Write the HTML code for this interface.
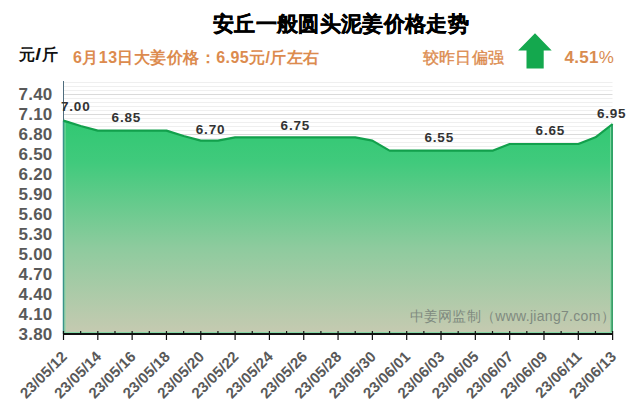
<!DOCTYPE html>
<html><head><meta charset="utf-8"><style>
html,body{margin:0;padding:0;background:#fff;}
body{width:640px;height:410px;overflow:hidden;position:relative;font-family:"Liberation Sans",sans-serif;}
svg{position:absolute;left:0;top:0;}
.t{position:absolute;white-space:nowrap;line-height:1;}
</style></head><body>
<svg width="640" height="410" viewBox="0 0 640 410" font-family="Liberation Sans, sans-serif">
<defs>
<linearGradient id="g" x1="0" y1="119" x2="0" y2="334" gradientUnits="userSpaceOnUse">
<stop offset="0" stop-color="#30c872"/>
<stop offset="0.2" stop-color="#40ca7c"/>
<stop offset="0.6" stop-color="#8ecb9e"/>
<stop offset="1" stop-color="#c6cab1"/>
</linearGradient>
</defs>
<g stroke-width="1"><line x1="63" y1="82.5" x2="612.5" y2="82.5" stroke="#efefef"/><line x1="63" y1="86.5" x2="612.5" y2="86.5" stroke="#efefef"/><line x1="63" y1="90.5" x2="612.5" y2="90.5" stroke="#efefef"/><line x1="63" y1="94.5" x2="612.5" y2="94.5" stroke="#dadada"/><line x1="63" y1="98.5" x2="612.5" y2="98.5" stroke="#efefef"/><line x1="63" y1="102.5" x2="612.5" y2="102.5" stroke="#efefef"/><line x1="63" y1="106.5" x2="612.5" y2="106.5" stroke="#efefef"/><line x1="63" y1="110.5" x2="612.5" y2="110.5" stroke="#efefef"/><line x1="63" y1="114.5" x2="612.5" y2="114.5" stroke="#dadada"/><line x1="63" y1="118.5" x2="612.5" y2="118.5" stroke="#efefef"/><line x1="63" y1="122.5" x2="612.5" y2="122.5" stroke="#efefef"/><line x1="63" y1="126.5" x2="612.5" y2="126.5" stroke="#efefef"/><line x1="63" y1="130.5" x2="612.5" y2="130.5" stroke="#efefef"/><line x1="63" y1="134.5" x2="612.5" y2="134.5" stroke="#dadada"/><line x1="63" y1="138.5" x2="612.5" y2="138.5" stroke="#efefef"/><line x1="63" y1="142.5" x2="612.5" y2="142.5" stroke="#efefef"/><line x1="63" y1="146.5" x2="612.5" y2="146.5" stroke="#efefef"/><line x1="63" y1="150.5" x2="612.5" y2="150.5" stroke="#efefef"/><line x1="63" y1="154.5" x2="612.5" y2="154.5" stroke="#dadada"/><line x1="63" y1="158.5" x2="612.5" y2="158.5" stroke="#efefef"/><line x1="63" y1="162.5" x2="612.5" y2="162.5" stroke="#efefef"/><line x1="63" y1="166.5" x2="612.5" y2="166.5" stroke="#efefef"/><line x1="63" y1="170.5" x2="612.5" y2="170.5" stroke="#efefef"/><line x1="63" y1="174.5" x2="612.5" y2="174.5" stroke="#dadada"/><line x1="63" y1="178.5" x2="612.5" y2="178.5" stroke="#efefef"/><line x1="63" y1="182.5" x2="612.5" y2="182.5" stroke="#efefef"/><line x1="63" y1="186.5" x2="612.5" y2="186.5" stroke="#efefef"/><line x1="63" y1="190.5" x2="612.5" y2="190.5" stroke="#efefef"/><line x1="63" y1="194.5" x2="612.5" y2="194.5" stroke="#dadada"/><line x1="63" y1="198.5" x2="612.5" y2="198.5" stroke="#efefef"/><line x1="63" y1="202.5" x2="612.5" y2="202.5" stroke="#efefef"/><line x1="63" y1="206.5" x2="612.5" y2="206.5" stroke="#efefef"/><line x1="63" y1="210.5" x2="612.5" y2="210.5" stroke="#efefef"/><line x1="63" y1="214.5" x2="612.5" y2="214.5" stroke="#dadada"/><line x1="63" y1="218.5" x2="612.5" y2="218.5" stroke="#efefef"/><line x1="63" y1="222.5" x2="612.5" y2="222.5" stroke="#efefef"/><line x1="63" y1="226.5" x2="612.5" y2="226.5" stroke="#efefef"/><line x1="63" y1="230.5" x2="612.5" y2="230.5" stroke="#efefef"/><line x1="63" y1="234.5" x2="612.5" y2="234.5" stroke="#dadada"/><line x1="63" y1="238.5" x2="612.5" y2="238.5" stroke="#efefef"/><line x1="63" y1="242.5" x2="612.5" y2="242.5" stroke="#efefef"/><line x1="63" y1="246.5" x2="612.5" y2="246.5" stroke="#efefef"/><line x1="63" y1="250.5" x2="612.5" y2="250.5" stroke="#efefef"/><line x1="63" y1="254.5" x2="612.5" y2="254.5" stroke="#dadada"/><line x1="63" y1="258.5" x2="612.5" y2="258.5" stroke="#efefef"/><line x1="63" y1="262.5" x2="612.5" y2="262.5" stroke="#efefef"/><line x1="63" y1="266.5" x2="612.5" y2="266.5" stroke="#efefef"/><line x1="63" y1="270.5" x2="612.5" y2="270.5" stroke="#efefef"/><line x1="63" y1="274.5" x2="612.5" y2="274.5" stroke="#dadada"/><line x1="63" y1="278.5" x2="612.5" y2="278.5" stroke="#efefef"/><line x1="63" y1="282.5" x2="612.5" y2="282.5" stroke="#efefef"/><line x1="63" y1="286.5" x2="612.5" y2="286.5" stroke="#efefef"/><line x1="63" y1="290.5" x2="612.5" y2="290.5" stroke="#efefef"/><line x1="63" y1="294.5" x2="612.5" y2="294.5" stroke="#dadada"/><line x1="63" y1="298.5" x2="612.5" y2="298.5" stroke="#efefef"/><line x1="63" y1="302.5" x2="612.5" y2="302.5" stroke="#efefef"/><line x1="63" y1="306.5" x2="612.5" y2="306.5" stroke="#efefef"/><line x1="63" y1="310.5" x2="612.5" y2="310.5" stroke="#efefef"/><line x1="63" y1="314.5" x2="612.5" y2="314.5" stroke="#dadada"/><line x1="63" y1="318.5" x2="612.5" y2="318.5" stroke="#efefef"/><line x1="63" y1="322.5" x2="612.5" y2="322.5" stroke="#efefef"/><line x1="63" y1="326.5" x2="612.5" y2="326.5" stroke="#efefef"/><line x1="63" y1="330.5" x2="612.5" y2="330.5" stroke="#efefef"/></g>
<line x1="63.5" y1="81" x2="63.5" y2="334" stroke="#4f6d7e" stroke-width="1"/>
<path d="M63.50,120.67 L80.66,126.00 L97.82,130.67 L114.98,130.67 L132.14,130.67 L149.30,130.67 L166.46,130.67 L183.62,136.00 L200.78,140.67 L217.94,140.67 L235.10,137.33 L252.26,137.33 L269.42,137.33 L286.58,137.33 L303.74,137.33 L320.90,137.33 L338.06,137.33 L355.22,137.33 L372.38,140.67 L389.54,150.67 L406.70,150.67 L423.86,150.67 L441.02,150.67 L458.18,150.67 L475.34,150.67 L492.50,150.67 L509.66,144.00 L526.82,144.00 L543.98,144.00 L561.14,144.00 L578.30,144.00 L595.46,137.33 L612.62,124.00 L612.62,334 L63.50,334 Z" fill="url(#g)" stroke="none"/>
<path d="M65,122.67 L65,333" stroke="#86d9a6" stroke-width="1" fill="none"/><path d="M63.5,120.67 L63.5,334" stroke="#3a948a" stroke-width="1.5" fill="none"/>
<path d="M610.62,126.00 L610.62,333" stroke="#86d9a6" stroke-width="1" fill="none"/><path d="M612.12,124.00 L612.12,334" stroke="#2a9c62" stroke-width="1.6" fill="none"/>
<line x1="63" y1="332.5" x2="612.5" y2="332.5" stroke="#86d9a6" stroke-width="1"/>
<path d="M63.50,120.67 L80.66,126.00 L97.82,130.67 L114.98,130.67 L132.14,130.67 L149.30,130.67 L166.46,130.67 L183.62,136.00 L200.78,140.67 L217.94,140.67 L235.10,137.33 L252.26,137.33 L269.42,137.33 L286.58,137.33 L303.74,137.33 L320.90,137.33 L338.06,137.33 L355.22,137.33 L372.38,140.67 L389.54,150.67 L406.70,150.67 L423.86,150.67 L441.02,150.67 L458.18,150.67 L475.34,150.67 L492.50,150.67 L509.66,144.00 L526.82,144.00 L543.98,144.00 L561.14,144.00 L578.30,144.00 L595.46,137.33 L612.62,124.00" stroke="#12a04c" stroke-width="2.2" fill="none" stroke-linejoin="round"/>
<line x1="63" y1="334" x2="613" y2="334" stroke="#111" stroke-width="2"/>
<g stroke="#111" stroke-width="1.2"><line x1="63.50" y1="331" x2="63.50" y2="340"/><line x1="80.66" y1="331" x2="80.66" y2="335"/><line x1="97.82" y1="331" x2="97.82" y2="340"/><line x1="114.98" y1="331" x2="114.98" y2="335"/><line x1="132.14" y1="331" x2="132.14" y2="340"/><line x1="149.30" y1="331" x2="149.30" y2="335"/><line x1="166.46" y1="331" x2="166.46" y2="340"/><line x1="183.62" y1="331" x2="183.62" y2="335"/><line x1="200.78" y1="331" x2="200.78" y2="340"/><line x1="217.94" y1="331" x2="217.94" y2="335"/><line x1="235.10" y1="331" x2="235.10" y2="340"/><line x1="252.26" y1="331" x2="252.26" y2="335"/><line x1="269.42" y1="331" x2="269.42" y2="340"/><line x1="286.58" y1="331" x2="286.58" y2="335"/><line x1="303.74" y1="331" x2="303.74" y2="340"/><line x1="320.90" y1="331" x2="320.90" y2="335"/><line x1="338.06" y1="331" x2="338.06" y2="340"/><line x1="355.22" y1="331" x2="355.22" y2="335"/><line x1="372.38" y1="331" x2="372.38" y2="340"/><line x1="389.54" y1="331" x2="389.54" y2="335"/><line x1="406.70" y1="331" x2="406.70" y2="340"/><line x1="423.86" y1="331" x2="423.86" y2="335"/><line x1="441.02" y1="331" x2="441.02" y2="340"/><line x1="458.18" y1="331" x2="458.18" y2="335"/><line x1="475.34" y1="331" x2="475.34" y2="340"/><line x1="492.50" y1="331" x2="492.50" y2="335"/><line x1="509.66" y1="331" x2="509.66" y2="340"/><line x1="526.82" y1="331" x2="526.82" y2="335"/><line x1="543.98" y1="331" x2="543.98" y2="340"/><line x1="561.14" y1="331" x2="561.14" y2="335"/><line x1="578.30" y1="331" x2="578.30" y2="340"/><line x1="595.46" y1="331" x2="595.46" y2="335"/><line x1="612.62" y1="331" x2="612.62" y2="340"/></g>
<g fill="#595959" font-weight="bold" font-size="17" text-anchor="end" letter-spacing="0.2"><text x="52.5" y="99.5">7.40</text><text x="52.5" y="119.5">7.10</text><text x="52.5" y="139.5">6.80</text><text x="52.5" y="159.5">6.50</text><text x="52.5" y="179.5">6.20</text><text x="52.5" y="199.5">5.90</text><text x="52.5" y="219.5">5.60</text><text x="52.5" y="239.5">5.30</text><text x="52.5" y="259.5">5.00</text><text x="52.5" y="279.5">4.70</text><text x="52.5" y="299.5">4.40</text><text x="52.5" y="319.5">4.10</text><text x="52.5" y="339.5">3.80</text></g>
<g fill="#333" font-weight="bold" font-size="13.5" letter-spacing="0.8"><text x="61.0" y="111.4">7.00</text><text x="111.6" y="122.3">6.85</text><text x="195.8" y="133.6">6.70</text><text x="280.6" y="129.7">6.75</text><text x="424.5" y="141.9">6.55</text><text x="535.6" y="135.2">6.65</text><text x="596.9" y="117.6">6.95</text></g>
<g fill="#595959" font-weight="bold" font-size="15" text-anchor="end" letter-spacing="0.1"><text transform="translate(68.00,357.5) rotate(-45)" x="0" y="0">23/05/12</text><text transform="translate(102.32,357.5) rotate(-45)" x="0" y="0">23/05/14</text><text transform="translate(136.64,357.5) rotate(-45)" x="0" y="0">23/05/16</text><text transform="translate(170.96,357.5) rotate(-45)" x="0" y="0">23/05/18</text><text transform="translate(205.28,357.5) rotate(-45)" x="0" y="0">23/05/20</text><text transform="translate(239.60,357.5) rotate(-45)" x="0" y="0">23/05/22</text><text transform="translate(273.92,357.5) rotate(-45)" x="0" y="0">23/05/24</text><text transform="translate(308.24,357.5) rotate(-45)" x="0" y="0">23/05/26</text><text transform="translate(342.56,357.5) rotate(-45)" x="0" y="0">23/05/28</text><text transform="translate(376.88,357.5) rotate(-45)" x="0" y="0">23/05/30</text><text transform="translate(411.20,357.5) rotate(-45)" x="0" y="0">23/06/01</text><text transform="translate(445.52,357.5) rotate(-45)" x="0" y="0">23/06/03</text><text transform="translate(479.84,357.5) rotate(-45)" x="0" y="0">23/06/05</text><text transform="translate(514.16,357.5) rotate(-45)" x="0" y="0">23/06/07</text><text transform="translate(548.48,357.5) rotate(-45)" x="0" y="0">23/06/09</text><text transform="translate(582.80,357.5) rotate(-45)" x="0" y="0">23/06/11</text><text transform="translate(617.12,357.5) rotate(-45)" x="0" y="0">23/06/13</text></g>
<text x="409.5" y="320.5" fill="#808a80" font-size="14" letter-spacing="0.3">中姜网监制（www.jiang7.com）</text>
<polygon points="535,33.3 551.7,50.6 543.7,50.6 543.7,68.6 526.5,68.6 526.5,50.6 518.1,50.6" fill="#14a84e"/>
</svg>
<div class="t" style="left:213px;top:12.5px;font-size:21px;font-weight:bold;letter-spacing:0.35px;color:#000;-webkit-text-stroke:0.4px #000;">安丘一般圆头泥姜价格走势</div>
<div class="t" style="left:19px;top:46.5px;font-size:16px;font-weight:bold;color:#111;">元<span style="display:inline-block;margin:0 1.5px 0 1px;transform:scaleX(1.3)">/</span>斤</div>
<div class="t" style="left:73px;top:50px;font-size:16px;font-weight:bold;letter-spacing:0.45px;color:#dc8b4e;">6月13日大姜价格：6.95元/斤左右</div>
<div class="t" style="left:423px;top:49.5px;font-size:16px;letter-spacing:0.2px;color:#dc8b4e;-webkit-text-stroke:0.35px #dc8b4e;">较昨日偏强</div>
<div class="t" style="left:564.5px;top:49px;font-size:17px;font-weight:bold;letter-spacing:0.3px;color:#d98c50;">4.51<span style="font-weight:normal">%</span></div>
</body></html>
